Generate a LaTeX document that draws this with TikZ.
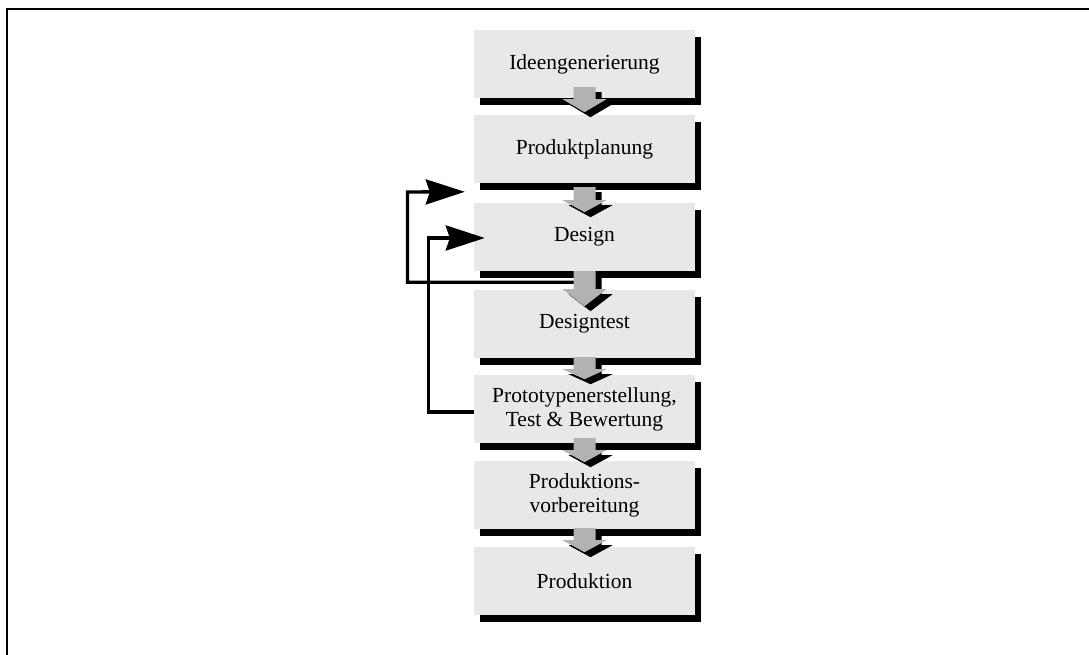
\documentclass[tikz,border=0pt]{standalone}
\usepackage{fontspec}
\setmainfont{Liberation Serif}
\usetikzlibrary{arrows.meta,calc,shadows}
\definecolor{boxfill}{RGB}{232,232,232}
\definecolor{arrowgray}{RGB}{178,178,178}

% block arrow below a stage box: #1 node, #2 shaft top, #3 head top, #4 tip (offsets from its south side)
\newcommand\flowarrow[4]{%
  \begin{scope}[shift={(#1.south)}]
    \fill[black,xshift=6pt,yshift=-5pt] (-11,#2) -- (11,#2) -- (11,#3) -- (22,#3) -- (0,#4) -- (-22,#3) -- (-11,#3) -- cycle;
    \fill[arrowgray] (-11,#2) -- (11,#2) -- (11,#3) -- (22,#3) -- (0,#4) -- (-22,#3) -- (-11,#3) -- cycle;
  \end{scope}}

\begin{document}
\begin{tikzpicture}[x=1pt,y=-1pt,
  stepbox/.style={fill=boxfill, minimum width=221pt, minimum height=68pt, inner sep=0pt,
    align=center, font=\fontsize{21.5}{24}\selectfont,
    general shadow={fill=black, shadow xshift=6pt, shadow yshift=-7pt}},
  feedback/.style={line width=3.4pt, -{Stealth[length=39pt,width=25pt,inset=4pt]}},
  frameline/.style={line width=2.2pt}]
\useasboundingbox (0,0) rectangle (1089,655);

% outer frame (top and left edges)
\draw[frameline] (7,657) -- (7,9) -- (1091,9);

% process stages
\node[stepbox] (idea)   at (584.5,64)  {Ideengenerierung};
\node[stepbox] (plan)   at (584.5,149) {Produktplanung};
\node[stepbox] (design) at (584.5,237) {Design};
\node[stepbox] (dtest)  at (584.5,324) {Designtest};
\node[stepbox] (proto)  at (584.5,409) {Prototypenerstellung,\\Test \& Bewertung};
\node[stepbox] (prep)   at (584.5,495) {Produktions-\\vorbereitung};
\node[stepbox] (prod)   at (584.5,581) {Produktion};

% feedback loops
\coordinate (fb1start) at ($(design.south)+(0,11)$);
\coordinate (fb1turn)  at (407.5,192);
\coordinate (fb1end)   at ($(design.north west)+(-9,-11)$);
\draw[feedback] (fb1start) -| (fb1turn) -- (fb1end);

\coordinate (fb2start) at ($(proto.west)+(0,3)$);
\coordinate (fb2turn)  at (428.5,238);
\coordinate (fb2end)   at ($(design.west)+(11,1)$);
\draw[feedback] (fb2start) -| (fb2turn) -- (fb2end);

% flow arrows between stages
\flowarrow{idea}{-11}{1}{14}
\flowarrow{plan}{4}{17}{29}
\flowarrow{design}{0}{18}{35}
\flowarrow{dtest}{-1}{11}{21}
\flowarrow{proto}{-5}{7}{19}
\flowarrow{prep}{-1}{11}{23}
\end{tikzpicture}
\end{document}
